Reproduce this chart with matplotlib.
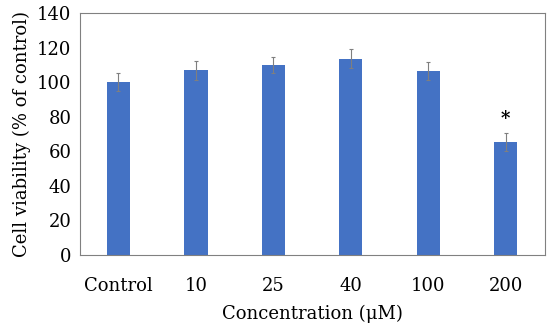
import numpy as np
import matplotlib.pyplot as plt

# Cell viability data
categories = ["Control", "10", "25", "40", "100", "200"]
viability = [100, 107, 110, 113.5, 106.5, 65.5]
errors = [5.2, 5.5, 4.7, 5.5, 5.4, 5.2]
significant = [False, False, False, False, False, True]

plt.rcParams['font.family'] = ['DejaVu Serif']

fig, ax = plt.subplots(figsize=(5.5, 3.3), dpi=100)
fig.subplots_adjust(left=0.145, right=0.99, top=0.96, bottom=0.228)

x = np.arange(len(categories))
ax.bar(x, viability, width=0.3, color="#4472C4", zorder=2)
ax.errorbar(x, viability, yerr=errors, fmt='none', ecolor="#7f7f7f",
            elinewidth=0.8, capsize=1.5, capthick=0.8, zorder=3)

# significance markers
for xi, v, e, s in zip(x, viability, errors, significant):
    if s:
        ax.text(xi, v + e + 3, "*", ha='center', va='bottom', fontsize=13,
                fontweight='bold')

ax.set_xlim(-0.5, len(categories) - 0.5)
ax.set_ylim(0, 140)
ax.set_yticks(np.arange(0, 141, 20))
ax.set_xticks(x)
ax.set_xticklabels(categories)
ax.tick_params(axis='both', length=0, labelsize=13)
ax.tick_params(axis='x', pad=16)
ax.tick_params(axis='y', pad=6)

for sp in ax.spines.values():
    sp.set_color("#808080")
    sp.set_linewidth(0.8)

ax.set_xlabel("Concentration (μM)", fontsize=13, labelpad=7)
ax.set_ylabel("Cell viability (% of control)", fontsize=13, labelpad=4)

plt.savefig("out.png", dpi=100)
